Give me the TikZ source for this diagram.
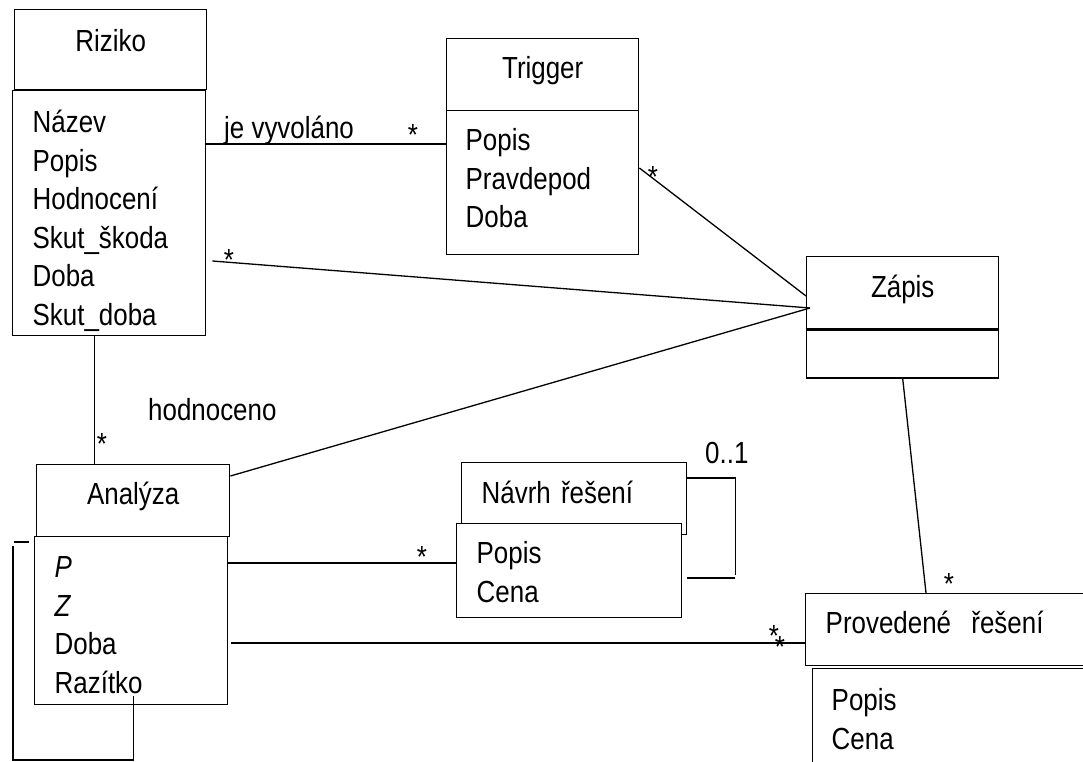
\documentclass[tikz,border=0pt]{standalone}
\usepackage{fontspec}
\setmainfont{Liberation Sans}[FakeStretch=0.85]
\usetikzlibrary{positioning}
\newcommand\umlfont{\fontsize{30.5pt}{38.5pt}\selectfont}

\begin{document}
\begin{tikzpicture}[x=1pt,y=-1pt,font=\umlfont,
  hdr/.style={draw,line width=1.4pt,fill=white,anchor=north west,inner ysep=0pt},
  attrs/.style={draw,line width=1.4pt,fill=white,anchor=north west,
                inner ysep=0pt,align=left},
  lnk/.style={line width=1.3pt},
  mult/.style={anchor=base,inner sep=0pt},
  lbl/.style={anchor=base west,inner sep=0pt}]
\useasboundingbox (0,0) rectangle (1083,762);
\clip (0,0) rectangle (1083,762);

\node[hdr,minimum width=192pt,text height=42pt,text depth=38pt]
  (rizikoH) at (14,9) {Riziko};
\node[attrs,text width=153pt,inner xsep=20pt,text height=42pt,text depth=203pt]
  (rizikoB) at (12,90)
  {Název\\Popis\\Hodnocení\\Skut\_škoda\\Doba\\Skut\_doba};
\node[hdr,minimum width=192pt,text height=40pt,text depth=32pt]
  (trigH) at (446,38) {Trigger};
\node[attrs,text width=154pt,inner xsep=19pt,text height=40pt,text depth=104pt]
  (trigB) at (446,110) {Popis\\Pravdepod\\Doba};
\node[hdr,minimum width=192pt,text height=41pt,text depth=31pt]
  (zapisH) at (806,256) {Zápis};
\node[hdr,minimum width=192pt,minimum height=48pt,inner sep=0pt]
  (zapisB) at (806,329.2) {};
\node[hdr,minimum width=193pt,text height=40pt,text depth=32pt]
  (analH) at (36,464) {Analýza};
\node[attrs,text width=153pt,inner xsep=20pt,text height=41pt,text depth=127pt]
  (analB) at (34,536) {\textit{P}\\\textit{Z}\\Doba\\Razítko};
\node[attrs,text width=185pt,inner xsep=20pt,text height=41pt,text depth=31pt]
  (navrhH) at (461,462) {Návrh řešení};
\node[attrs,text width=185pt,inner xsep=20pt,text height=40pt,text depth=54pt]
  (navrhB) at (456,523) {Popis\\Cena};
\node[attrs,text width=248pt,inner xsep=20pt,text height=40pt,text depth=32pt]
  (provH) at (805,593) {Provedené~~řešení};
\node[attrs,text width=243pt,inner xsep=19pt,text height=42pt,text depth=70pt]
  (provB) at (812,668) {Popis\\Cena};

\draw[lnk] ([yshift=-54pt]rizikoB.north east) -- ([yshift=-34pt]trigB.north west);
\draw[lnk] ([xshift=6pt,yshift=-171pt]rizikoB.north east)
  -- ([xshift=4pt,yshift=-52pt]zapisH.north west);
\draw[lnk] ([yshift=-58pt]trigB.north east) -- ([yshift=-40pt]zapisH.north west);
\draw[lnk] ([yshift=-12pt]analH.north east)
  -- ([xshift=4pt,yshift=-52pt]zapisH.north west);
\draw[lnk] ([xshift=-14.5pt]rizikoB.south)
  -- ([xshift=-14.5pt]rizikoB.south |- analH.north);
\draw[lnk] ([yshift=-27pt]analB.north east)
  -- ([yshift=-27pt]analB.north east -| navrhB.west);
\draw[lnk] ([xshift=3pt,yshift=-107pt]analB.north east)
  -- ([yshift=-107pt]analB.north east -| provH.west);
\draw[lnk] (zapisB.south) -- ([xshift=121pt]provH.north west);
\draw[lnk] ([yshift=-16pt]navrhH.north east)
  -| ([xshift=48pt,yshift=-113pt]navrhH.north east)
  ([xshift=48pt,yshift=-116pt]navrhH.north east)
  -- ([yshift=-116pt]navrhH.north east);

\coordinate (loopB) at (13,760);
\coordinate (loopT) at (13,546);
\draw[lnk] ([xshift=2.5pt,yshift=9pt]analB.south) |- (loopB) -- (loopT);
\draw[lnk] ([xshift=1pt,yshift=4pt]loopT) -- ++(15,0);

\node[lbl] (vyvolano) at (224,139) {je vyvoláno};
\node[lbl] (hodnoceno) at (148,420) {hodnoceno};
\node[lbl] (nula) at (705,463) {0..1};
\node[mult] (m1) at (413,145.5) {*};
\node[mult] (m2) at (229,270.5) {*};
\node[mult] (m3) at (653,187.5) {*};
\node[mult] (m4) at (102,454.5) {*};
\node[mult] (m5) at (422,567.5) {*};
\node[mult] (m6) at (774,646.5) {*};
\node[mult] (m7) at (780,657.5) {*};
\node[mult] (m8) at (949,594.5) {*};
\end{tikzpicture}
\end{document}
